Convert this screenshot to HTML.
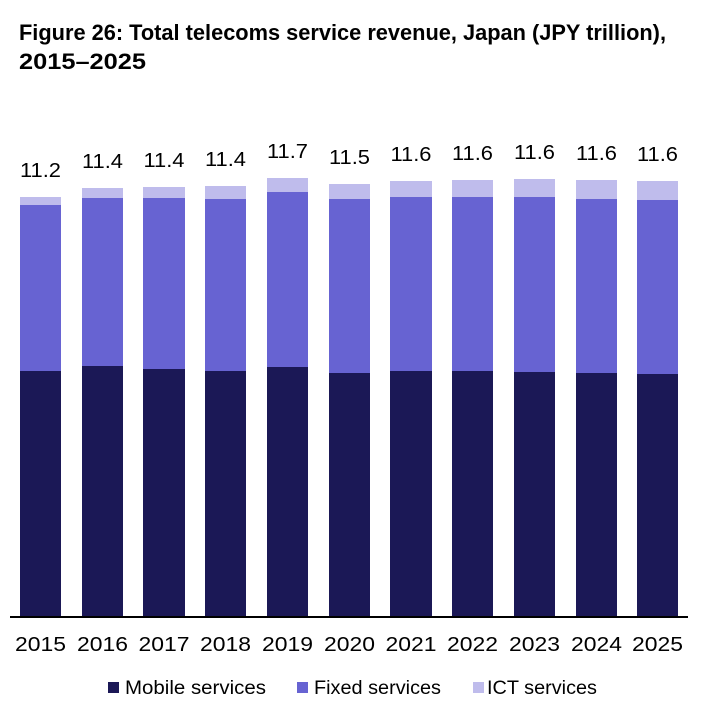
<!DOCTYPE html>
<html>
<head>
<meta charset="utf-8">
<style>
  html, body { margin: 0; padding: 0; background: #ffffff; }
  svg { display: block; }
  text { font-family: "Liberation Sans", sans-serif; fill: #000; }
</style>
</head>
<body>
<svg width="703" height="715" viewBox="0 0 703 715" xmlns="http://www.w3.org/2000/svg">
  <rect x="0" y="0" width="703" height="715" fill="#ffffff"/>
  <!-- Title -->
  <text x="19" y="40" font-size="22" font-weight="bold" textLength="647" lengthAdjust="spacingAndGlyphs">Figure 26: Total telecoms service revenue, Japan (JPY trillion),</text>
  <text x="19" y="69" font-size="22" font-weight="bold" textLength="127" lengthAdjust="spacingAndGlyphs">2015–2025</text>

  <!-- Bars: mobile -->
  <g fill="#1b1856">
    <rect x="20" y="371" width="41" height="246"/>
    <rect x="82" y="366" width="41" height="251"/>
    <rect x="143" y="369" width="42" height="248"/>
    <rect x="205" y="371" width="41" height="246"/>
    <rect x="267" y="367" width="41" height="250"/>
    <rect x="329" y="373" width="41" height="244"/>
    <rect x="390" y="371" width="42" height="246"/>
    <rect x="452" y="371" width="41" height="246"/>
    <rect x="514" y="372" width="41" height="245"/>
    <rect x="576" y="373" width="41" height="244"/>
    <rect x="637" y="374" width="41" height="243"/>
  </g>
  <!-- Bars: fixed -->
  <g fill="#6763d2">
    <rect x="20" y="205" width="41" height="166"/>
    <rect x="82" y="198" width="41" height="168"/>
    <rect x="143" y="198" width="42" height="171"/>
    <rect x="205" y="199" width="41" height="172"/>
    <rect x="267" y="192" width="41" height="175"/>
    <rect x="329" y="199" width="41" height="174"/>
    <rect x="390" y="197" width="42" height="174"/>
    <rect x="452" y="197" width="41" height="174"/>
    <rect x="514" y="197" width="41" height="175"/>
    <rect x="576" y="199" width="41" height="174"/>
    <rect x="637" y="200" width="41" height="174"/>
  </g>
  <!-- Bars: ICT -->
  <g fill="#bfbcec">
    <rect x="20" y="197" width="41" height="8"/>
    <rect x="82" y="188" width="41" height="10"/>
    <rect x="143" y="187" width="42" height="11"/>
    <rect x="205" y="186" width="41" height="13"/>
    <rect x="267" y="178" width="41" height="14"/>
    <rect x="329" y="184" width="41" height="15"/>
    <rect x="390" y="181" width="42" height="16"/>
    <rect x="452" y="180" width="41" height="17"/>
    <rect x="514" y="179" width="41" height="18"/>
    <rect x="576" y="180" width="41" height="19"/>
    <rect x="637" y="181" width="41" height="19"/>
  </g>

  <!-- Axis line -->
  <rect x="10" y="616" width="678" height="2" fill="#000"/>

  <!-- Value labels -->
  <g font-size="20" text-anchor="middle">
    <text x="40.5" y="177" textLength="41" lengthAdjust="spacingAndGlyphs">11.2</text>
    <text x="102.5" y="168" textLength="41" lengthAdjust="spacingAndGlyphs">11.4</text>
    <text x="164" y="167" textLength="41" lengthAdjust="spacingAndGlyphs">11.4</text>
    <text x="225.5" y="166" textLength="41" lengthAdjust="spacingAndGlyphs">11.4</text>
    <text x="287.5" y="158" textLength="41" lengthAdjust="spacingAndGlyphs">11.7</text>
    <text x="349.5" y="164" textLength="41" lengthAdjust="spacingAndGlyphs">11.5</text>
    <text x="411" y="161" textLength="41" lengthAdjust="spacingAndGlyphs">11.6</text>
    <text x="472.5" y="160" textLength="41" lengthAdjust="spacingAndGlyphs">11.6</text>
    <text x="534.5" y="159" textLength="41" lengthAdjust="spacingAndGlyphs">11.6</text>
    <text x="596.5" y="160" textLength="41" lengthAdjust="spacingAndGlyphs">11.6</text>
    <text x="657.5" y="161" textLength="41" lengthAdjust="spacingAndGlyphs">11.6</text>
  </g>

  <!-- Year labels -->
  <g font-size="20" text-anchor="middle">
    <text x="40.5" y="651" textLength="51" lengthAdjust="spacingAndGlyphs">2015</text>
    <text x="102.5" y="651" textLength="51" lengthAdjust="spacingAndGlyphs">2016</text>
    <text x="164" y="651" textLength="51" lengthAdjust="spacingAndGlyphs">2017</text>
    <text x="225.5" y="651" textLength="51" lengthAdjust="spacingAndGlyphs">2018</text>
    <text x="287.5" y="651" textLength="51" lengthAdjust="spacingAndGlyphs">2019</text>
    <text x="349.5" y="651" textLength="51" lengthAdjust="spacingAndGlyphs">2020</text>
    <text x="411" y="651" textLength="51" lengthAdjust="spacingAndGlyphs">2021</text>
    <text x="472.5" y="651" textLength="51" lengthAdjust="spacingAndGlyphs">2022</text>
    <text x="534.5" y="651" textLength="51" lengthAdjust="spacingAndGlyphs">2023</text>
    <text x="596.5" y="651" textLength="51" lengthAdjust="spacingAndGlyphs">2024</text>
    <text x="657.5" y="651" textLength="51" lengthAdjust="spacingAndGlyphs">2025</text>
  </g>

  <!-- Legend -->
  <rect x="108" y="682" width="11" height="11" fill="#1b1856"/>
  <text x="125" y="694" font-size="19.5" textLength="141" lengthAdjust="spacingAndGlyphs">Mobile services</text>
  <rect x="297" y="682" width="11" height="11" fill="#6763d2"/>
  <text x="314" y="694" font-size="19.5" textLength="127" lengthAdjust="spacingAndGlyphs">Fixed services</text>
  <rect x="473" y="682" width="11" height="11" fill="#bfbcec"/>
  <text x="487" y="694" font-size="19.5" textLength="110" lengthAdjust="spacingAndGlyphs">ICT services</text>
</svg>
</body>
</html>
